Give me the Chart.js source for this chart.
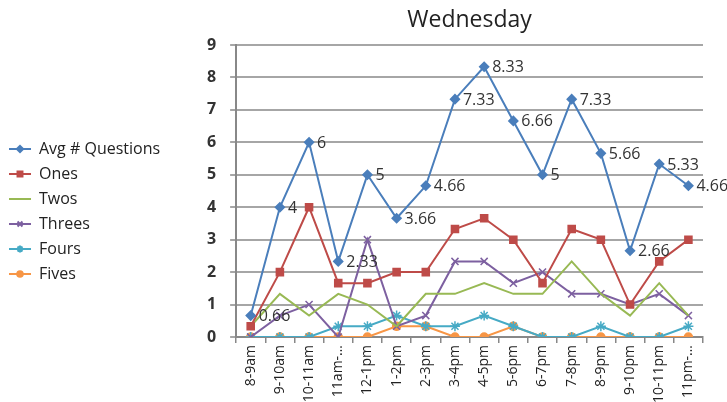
<!DOCTYPE html>
<html>
<head>
<meta charset="utf-8">
<script src="https://cdn.jsdelivr.net/npm/chart.js@4.4.1/dist/chart.umd.min.js"></script>
<style>
    html, body { margin: 0; padding: 0; background: #fff; }
    #wrap { width: 727px; height: 402px; }
</style>
</head>
<body>
<div id="wrap"><canvas id="myChart" width="727" height="402"></canvas></div>
<script>
// time slots on the x axis
const hours = ['8-9am', '9-10am', '10-11am', '11am-…', '12-1pm', '1-2pm', '2-3pm', '3-4pm',
    '4-5pm', '5-6pm', '6-7pm', '7-8pm', '8-9pm', '9-10pm', '10-11pm', '11pm-…'];

// series
const avgQuestions = [0.66, 4, 6, 2.33, 5, 3.66, 4.66, 7.33, 8.33, 6.66, 5, 7.33, 5.66, 2.66, 5.33, 4.66];
const ones   = [0.33, 2, 4, 1.66, 1.66, 2, 2, 3.33, 3.66, 3, 1.66, 3.33, 3, 1, 2.33, 3];
const twos   = [0.33, 1.33, 0.66, 1.33, 1, 0.33, 1.33, 1.33, 1.66, 1.33, 1.33, 2.33, 1.33, 0.66, 1.66, 0.66];
const threes = [0, 0.66, 1, 0, 3, 0.33, 0.66, 2.33, 2.33, 1.66, 2, 1.33, 1.33, 1, 1.33, 0.66];
const fours  = [0, 0, 0, 0.33, 0.33, 0.66, 0.33, 0.33, 0.66, 0.33, 0, 0, 0.33, 0, 0, 0.33];
const fives  = [0, 0, 0, 0, 0, 0.33, 0.33, 0, 0, 0.33, 0, 0, 0, 0, 0, 0];

const yTicks = [0, 1, 2, 3, 4, 5, 6, 7, 8, 9];

const chartTitle = 'Wednesday';
const FONT = 'Open Sans';

// small line+marker picture for the legend, drawn like the series
const legendIcon = (color, style, radius) => {
    const c = document.createElement('canvas');
    c.width = 22;
    c.height = 12;
    const ctx = c.getContext('2d');
    ctx.strokeStyle = color;
    ctx.lineWidth = 2;
    ctx.beginPath();
    ctx.moveTo(0, 6);
    ctx.lineTo(22, 6);
    ctx.stroke();
    if (style) {
        Chart.helpers.drawPoint(ctx, {
            pointStyle: style, rotation: 0, radius: radius, borderWidth: 1
        }, 11, 6);
        ctx.fillStyle = color;
        ctx.fill();
    }
    return c;
}

const makeSeries = (label, data, color, style, radius) => {
    return {
        label: label,
        data: data,
        borderColor: color,
        backgroundColor: color,
        borderWidth: 2,
        pointStyle: style || 'circle',
        pointRadius: style ? radius : 0,
        pointBorderWidth: 1.5,
        pointBorderColor: color,
        pointBackgroundColor: color,
        tension: 0,
        icon: { color: color, style: style, radius: radius * 0.7 }
    }
}

// labels next to the Avg points
const valueLabels = {
    id: 'valueLabels',
    afterDatasetsDraw(chart) {
        const meta = chart.getDatasetMeta(0);
        const ctx = chart.ctx;
        ctx.save();
        ctx.font = '16px "' + FONT + '"';
        ctx.fillStyle = '#333';
        ctx.textBaseline = 'middle';
        ctx.textAlign = 'left';
        meta.data.forEach((pt, i) => {
            ctx.fillText(String(avgQuestions[i]), pt.x + 8, pt.y + 1);
        });
        ctx.restore();
    }
}

// title centred over the plot area, like the original
const plotTitle = {
    id: 'plotTitle',
    afterDraw(chart) {
        const area = chart.chartArea;
        const ctx = chart.ctx;
        ctx.save();
        ctx.font = '23px "' + FONT + '"';
        ctx.fillStyle = '#222';
        ctx.textAlign = 'center';
        ctx.textBaseline = 'middle';
        ctx.fillText(chartTitle, (area.left + area.right) / 2, 20);
        ctx.restore();
    }
}

// the legend sits a bit higher than the middle of its column
const liftLegend = {
    id: 'liftLegend',
    afterLayout(chart) {
        if (chart.legend) {
            chart.legend.top -= 12;
            chart.legend.bottom -= 12;
        }
    }
}

const buildChart = () => {
    const ctx = document.getElementById('myChart').getContext('2d');
    new Chart(ctx, {
        type: 'line',
        data: {
            labels: hours,
            datasets: [
                makeSeries('Avg # Questions', avgQuestions, '#4a7ebb', 'rectRot', 4.5),
                makeSeries('Ones', ones, '#be4b48', 'rect', 5),
                makeSeries('Twos', twos, '#98b954', null, 0),
                makeSeries('Threes', threes, '#7d60a0', 'crossRot', 5),
                makeSeries('Fours', fours, '#46aac5', 'star', 5),
                makeSeries('Fives', fives, '#f79646', 'circle', 4)
            ]
        },
        options: {
            responsive: false,
            animation: false,
            layout: { padding: { top: 45, right: 24, bottom: 0, left: 0 } },
            plugins: {
                legend: {
                    position: 'left',
                    labels: {
                        usePointStyle: true,
                        pointStyleWidth: 22,
                        padding: 9,
                        color: '#222',
                        font: { family: FONT, size: 16 },
                        generateLabels: (chart) => chart.data.datasets.map((ds, i) => ({
                            text: ds.label,
                            pointStyle: legendIcon(ds.icon.color, ds.icon.style, ds.icon.radius),
                            fontColor: '#222',
                            hidden: false,
                            datasetIndex: i,
                            lineWidth: 0
                        }))
                    }
                },
                tooltip: { enabled: false }
            },
            scales: {
                x: {
                    offset: true,
                    grid: {
                        display: true,
                        drawOnChartArea: false,
                        drawTicks: true,
                        tickLength: 6,
                        offset: true,
                        color: '#888',
                        lineWidth: 1.5
                    },
                    border: { color: '#888', width: 2 },
                    ticks: {
                        autoSkip: false,
                        maxRotation: 90,
                        minRotation: 90,
                        padding: 2,
                        color: '#222',
                        font: { family: FONT, size: 14 }
                    },
                    afterFit: (scale) => { scale.height = 65; }
                },
                y: {
                    min: yTicks[0],
                    max: yTicks[yTicks.length - 1],
                    ticks: {
                        stepSize: 1,
                        padding: 14,
                        color: '#333',
                        font: { family: FONT, size: 16, weight: 'bold' }
                    },
                    grid: {
                        color: '#a6a6a6',
                        lineWidth: 2,
                        tickLength: 6
                    },
                    border: { color: '#888', width: 2 },
                    afterFit: (scale) => { scale.width = 66; }
                }
            }
        },
        plugins: [valueLabels, plotTitle, liftLegend]
    });
}

window.onload = () => {
    buildChart();
}
</script>
</body>
</html>
